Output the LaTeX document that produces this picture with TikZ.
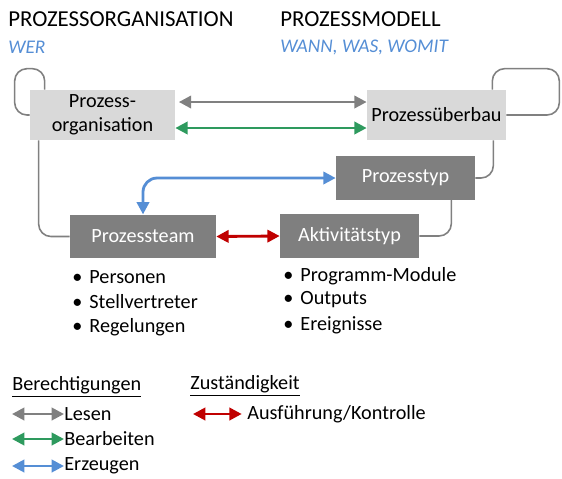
\documentclass[tikz,border=0pt]{standalone}
\usepackage{fontspec}
\setmainfont{Carlito}
\usetikzlibrary{positioning, arrows.meta}
\definecolor{ProzGray}{HTML}{808080}
\definecolor{ProzLight}{HTML}{D9D9D9}
\definecolor{ProzDark}{HTML}{7F7F7F}
\definecolor{ProzGreen}{HTML}{2E9A5E}
\definecolor{ProzBlue}{HTML}{558ED5}
\definecolor{ProzRed}{HTML}{C00000}
\tikzset{
  body/.style={font=\fontsize{11.5}{13.5}\selectfont},
  lightbox/.style={body, fill=ProzLight, inner sep=0pt, minimum height=1cm, align=center},
  darkbox/.style={body, fill=ProzDark, text=white, inner sep=0pt, minimum height=0.87cm},
  conn/.style={ProzGray, line width=0.9pt, rounded corners=7pt},
  rel/.style={line width=1.6pt, {Triangle[length=7pt,width=7pt]}-{Triangle[length=7pt,width=7pt]}},
  item/.style={body, anchor=west, inner sep=0pt},
}

\begin{document}
\begin{tikzpicture}[x=0.02cm, y=-0.02cm]
                \useasboundingbox (0,0) rectangle (562,478);

                % Headings
                \node[font=\fontsize{13}{15}\selectfont, anchor=west, inner sep=0pt] (hOrg) at (8,19) {PROZESSORGANISATION};
                \node[font=\fontsize{13}{15}\selectfont, anchor=west, inner sep=0pt] (hMod) at (280,19) {PROZESSMODELL};
                \node[font=\fontsize{11}{13}\selectfont\itshape, ProzBlue, anchor=west, inner sep=0pt] (sOrg) at (8,47) {WER};
                \node[font=\fontsize{11}{13}\selectfont\itshape, ProzBlue, anchor=west, inner sep=0pt] (sMod) at (280,47) {WANN, WAS, WOMIT};

                % Boxes
                \node[lightbox, minimum width=2.9cm] (orga) at (102.5,115) {Prozess-\\organisation};
                \node[lightbox, minimum width=2.78cm] (ueber) at (436.5,115) {Prozessüberbau};
                \node[darkbox, minimum width=2.78cm] (typ) at (405.5,178) {Prozesstyp};
                \node[darkbox, minimum width=2.92cm] (team) at (143,236.5) {Prozessteam};
                \node[darkbox, minimum width=2.78cm] (akt) at (349.5,236) {Aktivitätstyp};

                % Loops and links
                \draw[conn] ([xshift=0.3cm]orga.north west) -- ++(0,-21) -- ++(-30,0) |- (orga.west);
                \draw[conn] ([xshift=-0.28cm]ueber.north east) -- ++(0,-21) -- ++(67,0) |- (ueber.east);
                \draw[conn] ([xshift=0.18cm]orga.south west) |- (team.west);
                \draw[conn] ([xshift=-0.26cm]ueber.south east) |- (typ.east);
                \draw[conn] ([xshift=-0.48cm]typ.south east) |- (akt.east);

                % Relations
                \draw[rel, ProzGray, shorten <=2pt] ([yshift=0.26cm]orga.east) -- ([yshift=0.26cm]ueber.west);
                \draw[rel, ProzGreen] ([yshift=-0.26cm]orga.east) -- ([yshift=-0.26cm]ueber.west);
                \draw[rel, ProzBlue, rounded corners=8pt] (typ.west) -| (team.north);
                \draw[rel, ProzRed] (team.east) -- (akt.east -| akt.west);

                % Bullet lists
                \node[item] (p1) at (72,277) {\textbullet\hspace{4pt}Personen};
                \node[item] (p2) at (72,302) {\textbullet\hspace{4pt}Stellvertreter};
                \node[item] (p3) at (72,327) {\textbullet\hspace{4pt}Regelungen};
                \node[item] (a1) at (283,276) {\textbullet\hspace{4pt}Programm-Module};
                \node[item] (a2) at (283,300) {\textbullet\hspace{4pt}Outputs};
                \node[item] (a3) at (283,325) {\textbullet\hspace{4pt}Ereignisse};

                % Legend
                \node[item] (lBer) at (12,387) {\underline{Berechtigungen}};
                \node[item] (lZus) at (190,386) {\underline{Zuständigkeit}};
                \coordinate (k1) at (12,414);
                \coordinate (k2) at (12,439);
                \coordinate (k3) at (12,466);
                \coordinate (k4) at (193,414);
                \node[item] (lLes) at (64,414) {Lesen};
                \node[item] (lBea) at (64,439) {Bearbeiten};
                \node[item] (lErz) at (64,466) {Erzeugen};
                \node[item] (lAus) at (247,414) {Ausführung/Kontrolle};
                \draw[rel, ProzGray] (k1) -- (lLes.west);
                \draw[rel, ProzGreen] (k2) -- (lBea.west);
                \draw[rel, ProzBlue] (k3) -- (lErz.west);
                \draw[rel, ProzRed] (k4) -- ([xshift=-3pt]lAus.west);
            \end{tikzpicture}
\end{document}
